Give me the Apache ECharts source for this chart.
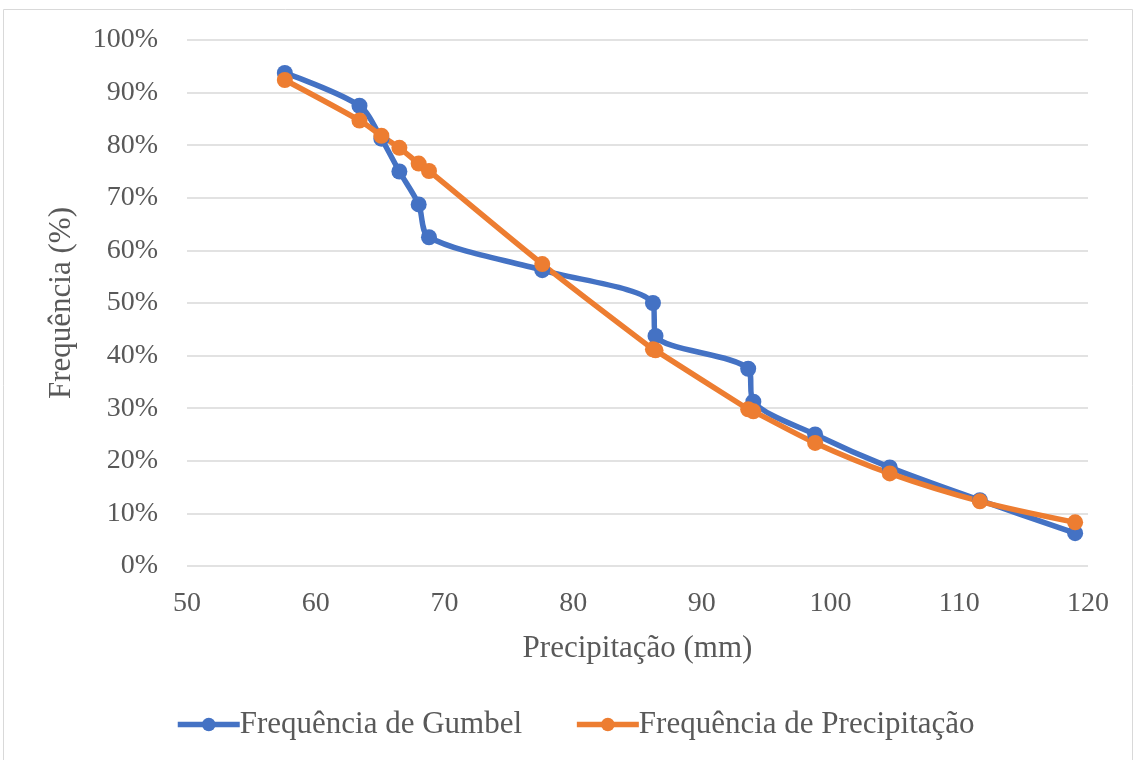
<!DOCTYPE html>
<html><head><meta charset="utf-8">
<script src="https://cdn.jsdelivr.net/npm/echarts@6/dist/echarts.min.js"></script>
<style>html,body{margin:0;padding:0;background:#fff}#c{width:1134px;height:760px}</style>
</head><body><div id="c"></div>
<script>
const precipitation = [57.6, 63.4, 65.1, 66.5, 68.0, 68.8, 77.6, 86.2, 86.4, 93.6, 94.0, 98.8, 104.6, 111.6, 119.0];
const gumbelFreq = [93.75, 87.5, 81.25, 75, 68.75, 62.5, 56.25, 50, 43.75, 37.5, 31.25, 25, 18.75, 12.5, 6.25];
const precipFreq = [92.4, 84.7, 81.8, 79.5, 76.5, 75.1, 57.4, 41.2, 41.0, 29.8, 29.4, 23.4, 17.6, 12.3, 8.3];
const seriesNames = ['Frequência de Gumbel', 'Frequência de Precipitação'];

const font = '"Liberation Serif", "Times New Roman", serif';
const chart = echarts.init(document.getElementById('c'));
chart.setOption({
  animation: false,
  textStyle: {fontFamily: font},
  graphic: [{type: 'rect', shape: {x: 3.5, y: 9.5, width: 1129, height: 760}, style: {fill: null, stroke: '#d9d9d9', lineWidth: 1}}],
  grid: {left: 187, right: 46, top: 40, bottom: 194},
  legend: {
    bottom: 15, left: 170, itemWidth: 62, itemHeight: 17, itemGap: 52,
    lineStyle: {width: 5.5},
    textStyle: {fontSize: 31, color: '#595959', fontFamily: font, padding: [0, 0, 0, -5]},
    data: seriesNames
  },
  xAxis: {
    type: 'value', min: 50, max: 120, interval: 10,
    name: 'Precipitação (mm)', nameLocation: 'middle', nameGap: 67,
    nameTextStyle: {fontSize: 31, color: '#595959', fontFamily: font},
    axisLine: {show: false}, axisTick: {show: false}, splitLine: {show: false},
    axisLabel: {fontSize: 28, color: '#595959', margin: 24, fontFamily: font}
  },
  yAxis: {
    type: 'value', min: 0, max: 100, interval: 10,
    name: 'Frequência (%)', nameLocation: 'middle', nameGap: 110,
    nameTextStyle: {fontSize: 31, color: '#595959', fontFamily: font},
    axisLine: {show: false}, axisTick: {show: false},
    splitLine: {lineStyle: {color: '#d9d9d9', width: 1.5}},
    axisLabel: {fontSize: 28, color: '#595959', margin: 29, formatter: '{value}%', fontFamily: font}
  },
  series: [
    {name: seriesNames[0], type: 'line', smooth: 0.3, symbol: 'circle', symbolSize: 16,
     lineStyle: {width: 5.5, color: '#4472c4'}, itemStyle: {color: '#4472c4'},
     data: precipitation.map((x, i) => [x, gumbelFreq[i]])},
    {name: seriesNames[1], type: 'line', smooth: 0.3, symbol: 'circle', symbolSize: 16,
     lineStyle: {width: 5.5, color: '#ed7d31'}, itemStyle: {color: '#ed7d31'},
     data: precipitation.map((x, i) => [x, precipFreq[i]])}
  ]
});
</script></body></html>
